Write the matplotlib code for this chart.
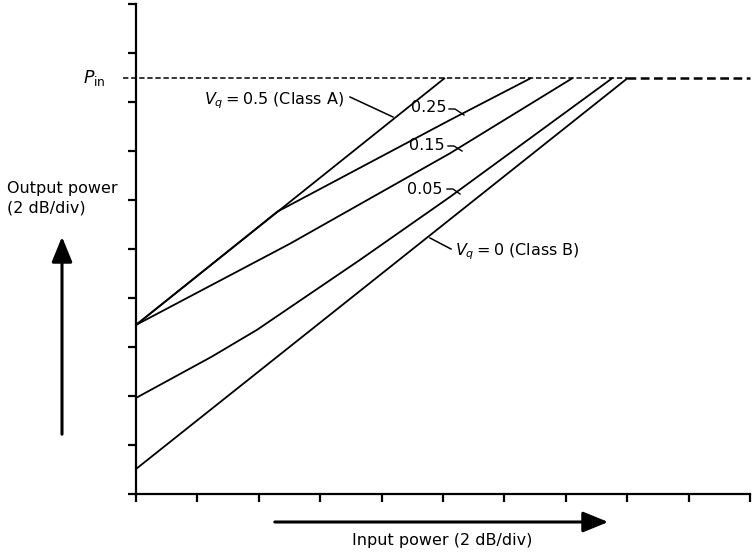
import matplotlib
matplotlib.use("Agg")
import matplotlib.pyplot as plt
from matplotlib import font_manager

# ---------------- data (units: divisions, 2 dB/div) ----------------
psat = 8.48

classA_in = [0.0, 5.02]
classA_out = [3.45, 8.48]

vq025_in = [0.0, 2.30, 5.11, 6.42]
vq025_out = [3.45, 5.76, 7.63, 8.48]

vq015_in = [0.0, 2.51, 5.11, 7.10]
vq015_out = [3.45, 5.11, 6.95, 8.48]

vq005_in = [0.0, 1.23, 1.97, 3.65, 5.11, 7.75]
vq005_out = [1.96, 2.80, 3.35, 4.78, 6.06, 8.48]

classB_in = [0.0, 8.00]
classB_out = [0.51, 8.48]

x_ticks = list(range(0, 11))
y_ticks = list(range(0, 11))

# ---------------- fonts ----------------
avail = {f.name for f in font_manager.fontManager.ttflist}
fam = "Liberation Sans Narrow" if "Liberation Sans Narrow" in avail else "DejaVu Sans"
plt.rcParams["font.family"] = [fam, "DejaVu Sans"]
plt.rcParams["mathtext.fontset"] = "custom"
plt.rcParams["mathtext.rm"] = fam
plt.rcParams["mathtext.it"] = fam + ":italic"

W, H = 753, 553
fig = plt.figure(figsize=(W / 100, H / 100), dpi=100)
x0px, x1px, y0px, y1px = 136, 750, 494, 4
ax = fig.add_axes([x0px / W, 1 - y0px / H, (x1px - x0px) / W, (y0px - y1px) / H])
ax.set_xlim(0, 10)
ax.set_ylim(0, 10)

for s in ["top", "right"]:
    ax.spines[s].set_visible(False)
for s in ["left", "bottom"]:
    ax.spines[s].set_linewidth(1.6)
ax.set_xticks(x_ticks)
ax.set_yticks(y_ticks)
ax.tick_params(direction="out", length=6, width=1.6, labelbottom=False, labelleft=False)

lw = 1.3
ax.plot(classA_in, classA_out, color="black", lw=lw, clip_on=False)
ax.plot(vq025_in, vq025_out, color="black", lw=lw, clip_on=False)
ax.plot(vq015_in, vq015_out, color="black", lw=lw, clip_on=False)
ax.plot(vq005_in, vq005_out, color="black", lw=lw, clip_on=False)
ax.plot(classB_in, classB_out, color="black", lw=lw, clip_on=False)

# saturation line
ax.plot([-0.21, classB_in[-1]], [psat, psat], color="black", lw=1.1,
        dashes=(3.5, 1.8), clip_on=False)
ax.plot([classB_in[-1], 10], [psat, psat], color="black", lw=1.8,
        dashes=(3.5, 1.8), clip_on=False)


def P(px, py):
    return ((px - x0px) / 61.4, (y0px - py) / 49.0)


fs = 11.5
ax.text(*P(106, 78), r"$P_{\rm in}$", ha="right", va="center", fontsize=fs + 1,
        clip_on=False)

# labels with leader lines
ax.text(*P(344, 101), r"$V_q = $0.5 (Class A)", ha="right", va="center", fontsize=fs)
ax.plot(*zip(P(350, 97), P(393, 117)), color="black", lw=1.1)

ax.text(*P(446, 108), "0.25", ha="right", va="center", fontsize=fs)
ax.plot(*zip(P(449, 109), P(455, 109), P(464, 115)), color="black", lw=1.0)

ax.text(*P(445, 146), "0.15", ha="right", va="center", fontsize=fs)
ax.plot(*zip(P(448, 146), P(454, 146), P(462, 151)), color="black", lw=1.0)

ax.text(*P(443, 190), "0.05", ha="right", va="center", fontsize=fs)
ax.plot(*zip(P(447, 189), P(453, 189), P(460, 194)), color="black", lw=1.0)

ax.text(*P(455, 252), r"$V_q = $0 (Class B)", ha="left", va="center", fontsize=fs)
ax.plot(*zip(P(451, 249), P(430, 238)), color="black", lw=1.1)

# axis titles & arrows (figure coords)
fig.text(7 / W, 1 - 198 / H, "Output power\n(2 dB/div)", ha="left", va="center",
         fontsize=fs, linespacing=1.35)
fig.text(442 / W, 1 - 541 / H, "Input power (2 dB/div)", ha="center", va="center",
         fontsize=fs)

fig.add_artist(matplotlib.patches.FancyArrowPatch(
    (62 / W, 1 - 437 / H), (62 / W, 1 - 234 / H), transform=fig.transFigure,
    arrowstyle="-|>,head_length=1.1,head_width=0.45", mutation_scale=14,
    color="black", lw=2.2))
fig.add_artist(matplotlib.patches.FancyArrowPatch(
    (272 / W, 1 - 522 / H), (611 / W, 1 - 522 / H), transform=fig.transFigure,
    arrowstyle="-|>,head_length=1.1,head_width=0.45", mutation_scale=14,
    color="black", lw=2.2))

fig.savefig("out.png", dpi=100)
